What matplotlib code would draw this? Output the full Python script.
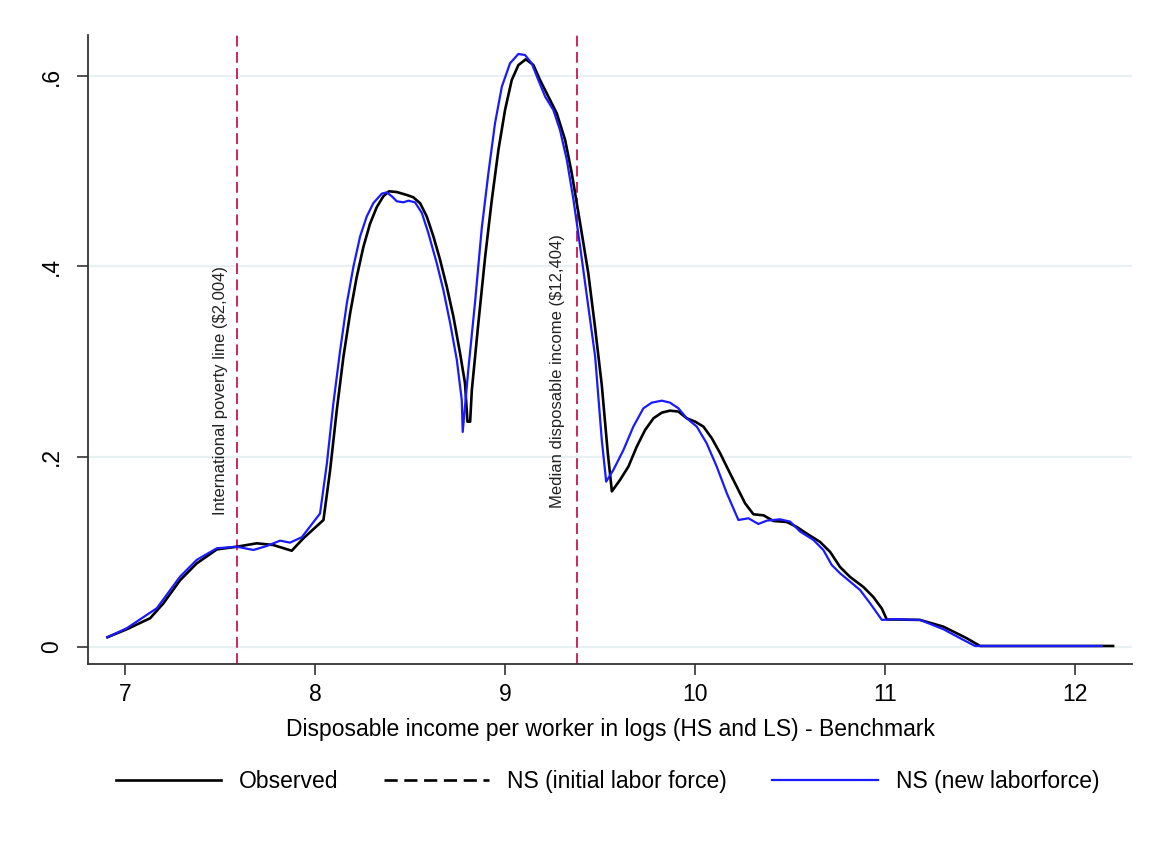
"""
Kernel densities of disposable income per worker (logs), observed vs NS scenarios.
"""

import matplotlib.pyplot as plt
from matplotlib.lines import Line2D

plt.rcParams["font.family"] = ["Liberation Sans", "DejaVu Sans"]

# Observed density
obs_x = [6.907, 7.009, 7.132, 7.202, 7.289, 7.377, 7.483, 7.588, 7.693, 7.78,
         7.877, 7.938, 8.044, 8.079, 8.114, 8.149, 8.184, 8.219, 8.254, 8.289,
         8.325, 8.359, 8.389, 8.43, 8.483, 8.517, 8.553, 8.588, 8.623, 8.658,
         8.693, 8.728, 8.763, 8.789, 8.802, 8.816, 8.825, 8.859, 8.895, 8.93,
         8.965, 9.0, 9.035, 9.07, 9.109, 9.149, 9.184, 9.228, 9.272, 9.316,
         9.351, 9.395, 9.438, 9.474, 9.509, 9.54, 9.562, 9.605, 9.649, 9.693,
         9.737, 9.781, 9.825, 9.868, 9.912, 9.956, 10.0, 10.044, 10.088, 10.132,
         10.175, 10.219, 10.263, 10.307, 10.36, 10.412, 10.483, 10.535, 10.588, 10.658,
         10.711, 10.763, 10.816, 10.886, 10.938, 10.983, 11.009, 11.061, 11.184, 11.307,
         11.43, 11.5, 12.2]
obs_y = [0.0102, 0.0186, 0.0302, 0.0459, 0.070, 0.0878, 0.1025, 0.1053, 0.1089, 0.1071,
         0.1011, 0.1141, 0.1334, 0.1856, 0.2486, 0.3047, 0.3502, 0.3887, 0.4202, 0.4447,
         0.4623, 0.4735, 0.4788, 0.4780, 0.4749, 0.4725, 0.4662, 0.4522, 0.4312, 0.4067,
         0.3786, 0.3471, 0.3086, 0.2771, 0.2367, 0.2367, 0.2700, 0.3397, 0.4098, 0.4696,
         0.5224, 0.5645, 0.5957, 0.6114, 0.6175, 0.6115, 0.5957, 0.5782, 0.5607, 0.5327,
         0.4977, 0.4452, 0.3926, 0.3350, 0.2750, 0.2050, 0.1635, 0.1755, 0.1895, 0.2105,
         0.2280, 0.2403, 0.2462, 0.2483, 0.2473, 0.2403, 0.2368, 0.2315, 0.2193, 0.2035,
         0.1860, 0.1685, 0.1510, 0.1394, 0.1383, 0.1324, 0.1313, 0.1261, 0.1191, 0.1103,
         0.0998, 0.0840, 0.0735, 0.0630, 0.0525, 0.0403, 0.0288, 0.0288, 0.0284, 0.0213,
         0.0091, 0.001, 0.001]

# NS (new laborforce)
new_x = [6.907, 7.009, 7.167, 7.289, 7.377, 7.483, 7.588, 7.675, 7.746, 7.816,
         7.868, 7.93, 8.026, 8.062, 8.096, 8.132, 8.167, 8.202, 8.237, 8.272,
         8.307, 8.351, 8.377, 8.404, 8.43, 8.465, 8.491, 8.526, 8.562, 8.596,
         8.64, 8.675, 8.711, 8.746, 8.772, 8.777, 8.807, 8.842, 8.877, 8.912,
         8.947, 8.983, 9.026, 9.07, 9.105, 9.14, 9.175, 9.211, 9.254, 9.289,
         9.325, 9.36, 9.395, 9.438, 9.474, 9.509, 9.532, 9.57, 9.623, 9.675,
         9.728, 9.772, 9.825, 9.868, 9.912, 9.956, 10.009, 10.061, 10.114, 10.167,
         10.228, 10.281, 10.333, 10.377, 10.447, 10.5, 10.553, 10.623, 10.675, 10.719,
         10.763, 10.816, 10.868, 10.921, 10.983, 11.044, 11.184, 11.307, 11.412, 11.474,
         12.14]
new_y = [0.0102, 0.0197, 0.0407, 0.0738, 0.0915, 0.1037, 0.1053, 0.1019, 0.1061, 0.1117,
         0.1096, 0.1153, 0.1402, 0.1926, 0.2556, 0.3118, 0.3611, 0.3999, 0.4314, 0.4524,
         0.4665, 0.4763, 0.4777, 0.4735, 0.4683, 0.4672, 0.4689, 0.4672, 0.4560, 0.4350,
         0.4035, 0.3752, 0.3401, 0.3016, 0.2595, 0.2259, 0.2925, 0.3625, 0.4396, 0.4977,
         0.5503, 0.5888, 0.6133, 0.6231, 0.6220, 0.6133, 0.5957, 0.5782, 0.5642, 0.5432,
         0.5117, 0.4697, 0.4207, 0.3576, 0.3051, 0.2175, 0.1737, 0.1860, 0.2070, 0.2315,
         0.2508, 0.2567, 0.2588, 0.2567, 0.2508, 0.2403, 0.2315, 0.2140, 0.1895, 0.1615,
         0.1334, 0.1352, 0.1292, 0.1327, 0.1341, 0.1317, 0.1212, 0.1124, 0.1019, 0.0862,
         0.0774, 0.0686, 0.0599, 0.0459, 0.0284, 0.0291, 0.0284, 0.0186, 0.0074, 0.001,
         0.001]

# reference lines (log income)
poverty_x = 7.59
median_x = 9.38
poverty_label = "International poverty line (\\$2,004)"
median_label = "Median disposable income (\\$12,404)"

x_ticks = [7, 8, 9, 10, 11, 12]
y_ticks = [0, 0.2, 0.4, 0.6]
y_ticklabels = ["0", ".2", ".4", ".6"]

RED = "#c8174a"
BLUE = "#1a1aff"

fig = plt.figure(figsize=(11.54, 8.44), dpi=100)
ax = fig.add_axes([0.0763, 0.2133, 0.9047, 0.7452])

for y in y_ticks:
    ax.axhline(y, color="#e8f0f1", lw=1.6, zorder=0)

ax.axvline(poverty_x, color=RED, lw=1.3, ls=(0, (6, 3)), zorder=1)
ax.axvline(median_x, color=RED, lw=1.3, ls=(0, (6, 3)), zorder=1)
ax.text(7.5, 0.1387, poverty_label, rotation=90, ha="center", va="bottom",
        fontsize=12, color="#222222")
ax.text(9.274, 0.146, median_label, rotation=90, ha="center", va="bottom",
        fontsize=12, color="#222222")

ax.plot(obs_x, obs_y, color="black", lw=1.9, zorder=3, solid_joinstyle="round")
ax.plot(new_x, new_y, color=BLUE, lw=1.6, zorder=4, solid_joinstyle="round")

ax.set_xlim(6.805, 12.30)
ax.set_ylim(-0.0179, 0.643)
ax.set_xticks(x_ticks)
ax.set_yticks(y_ticks)
ax.set_yticklabels(y_ticklabels, rotation=90, va="center")
ax.tick_params(axis="both", labelsize=16.5, length=8, width=1.2, color="#333333")
ax.tick_params(axis="x", pad=6)
ax.tick_params(axis="y", pad=10)
for s in ["top", "right"]:
    ax.spines[s].set_visible(False)
for s in ["left", "bottom"]:
    ax.spines[s].set_linewidth(1.3)
    ax.spines[s].set_color("#333333")

ax.set_xlabel("Disposable income per worker in logs (HS and LS) - Benchmark",
              fontsize=16.5, labelpad=8)

handles = [
    Line2D([], [], color="black", lw=1.9),
    Line2D([], [], color="black", lw=1.9, ls=(0, (5, 2.5))),
    Line2D([], [], color=BLUE, lw=1.6),
]
labels = ["Observed", "NS (initial labor force)", "NS (new laborforce)"]
fig.legend(handles, labels, loc="center", bbox_to_anchor=(0.5264, 0.0735), ncol=3,
           frameon=False, fontsize=16.5, handlelength=4.6, handletextpad=0.79,
           columnspacing=1.97)

fig.savefig("out.png", dpi=100)
